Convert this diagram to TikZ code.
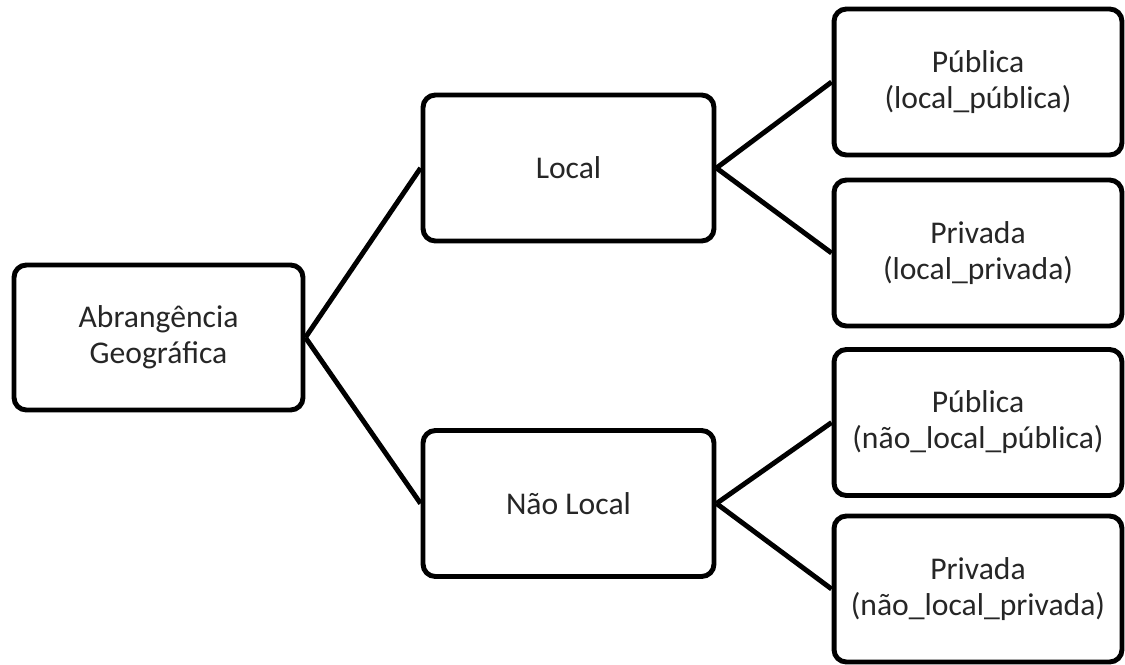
\documentclass[tikz,border=0pt]{standalone}
\usepackage{fontspec}
\setmainfont{Carlito}
\usetikzlibrary{positioning}

\tikzset{
    caixa/.style={draw=black, line width=2.8pt, rounded corners=7pt, fill=white,
        align=center, font=\fontsize{18}{20.5}\selectfont, text=black!85},
    folha/.style={caixa, minimum width=5.76cm, minimum height=2.92cm},
    ramo/.style={caixa, minimum width=5.82cm, minimum height=2.92cm},
    liga/.style={black, line width=2.8pt}
}

\begin{document}
\begin{tikzpicture}[x=0.02cm, y=-0.02cm]
        \useasboundingbox (0,0) rectangle (1125,664);

        \node [caixa, minimum width=5.78cm, minimum height=2.9cm] (raiz) at (158.5,337.5) {Abrangência\\Geográfica};

        \node [ramo] (local) at (568.5,168) {Local};
        \node [ramo] (naolocal) at (568.5,503.5) {Não Local};

        \node [folha] (lpub) at (978,82) {Pública\\(local\_pública)};
        \node [folha] (lpriv) at (978,253) {Privada\\(local\_privada)};
        \node [folha] (nlpub) at (978,422.5) {Pública\\(não\_local\_pública)};
        \node [folha] (nlpriv) at (978,589) {Privada\\(não\_local\_privada)};

        \draw [liga] (raiz.east) -- (local.west);
        \draw [liga] (raiz.east) -- (naolocal.west);

        \draw [liga] (local.east) -- (lpub.west);
        \draw [liga] (local.east) -- (lpriv.west);

        \draw [liga] (naolocal.east) -- (nlpub.west);
        \draw [liga] (naolocal.east) -- (nlpriv.west);
\end{tikzpicture}
\end{document}
